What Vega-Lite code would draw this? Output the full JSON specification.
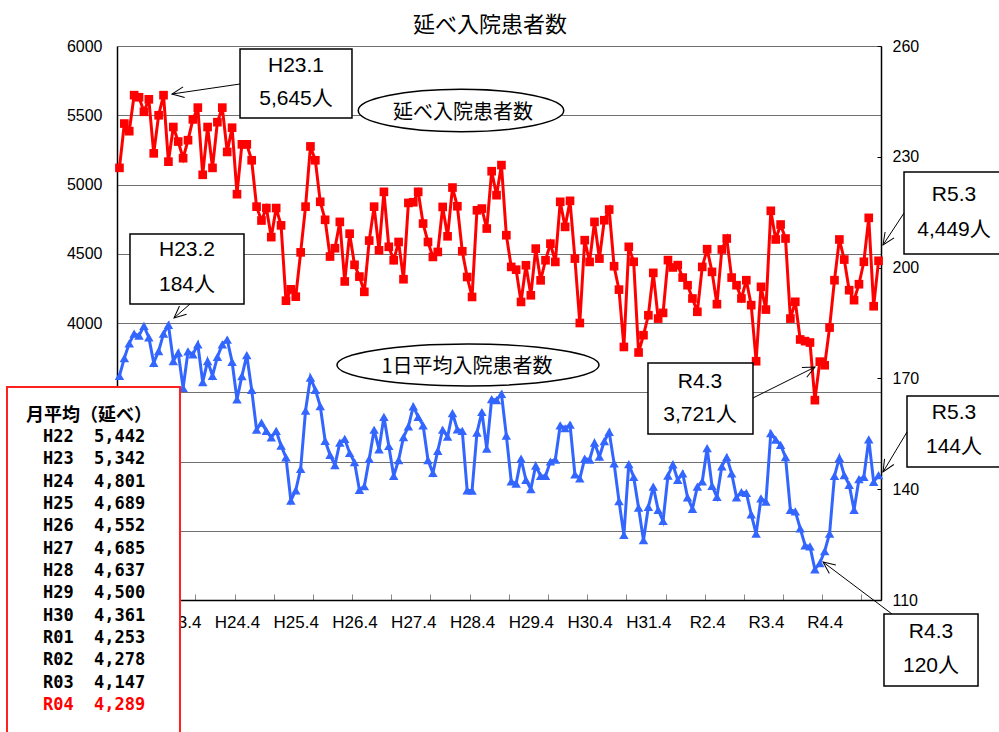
{
  "$schema": "https://vega.github.io/schema/vega-lite/v6.json",
  "width": 764,
  "height": 554,
  "autosize": {"type": "none"},
  "padding": {"left": 117, "top": 46, "right": 118, "bottom": 132},
  "background": "white",
  "title": {"text": "延べ入院患者数", "font": "Noto Sans CJK JP", "fontSize": 22, "fontWeight": "normal", "color": "black", "anchor": "middle", "dx": -9, "offset": 1},
  "config": {"view": {"stroke": null}},
  "datasets": {
    "monthly": [
      {"idx":0,"month":"H22.4","total":5120,"daily":170.7},
      {"idx":1,"month":"H22.5","total":5440,"daily":175.5},
      {"idx":2,"month":"H22.6","total":5385,"daily":179.5},
      {"idx":3,"month":"H22.7","total":5645,"daily":182.1},
      {"idx":4,"month":"H22.8","total":5630,"daily":181.6},
      {"idx":5,"month":"H22.9","total":5525,"daily":184.2},
      {"idx":6,"month":"H22.10","total":5615,"daily":181.1},
      {"idx":7,"month":"H22.11","total":5225,"daily":174.2},
      {"idx":8,"month":"H22.12","total":5500,"daily":177.4},
      {"idx":9,"month":"H23.1","total":5645,"daily":182.1},
      {"idx":10,"month":"H23.2","total":5165,"daily":184.5},
      {"idx":11,"month":"H23.3","total":5415,"daily":174.7},
      {"idx":12,"month":"H23.4","total":5310,"daily":177.0},
      {"idx":13,"month":"H23.5","total":5190,"daily":167.4},
      {"idx":14,"month":"H23.6","total":5320,"daily":177.3},
      {"idx":15,"month":"H23.7","total":5470,"daily":176.5},
      {"idx":16,"month":"H23.8","total":5555,"daily":179.2},
      {"idx":17,"month":"H23.9","total":5070,"daily":169.0},
      {"idx":18,"month":"H23.10","total":5415,"daily":174.7},
      {"idx":19,"month":"H23.11","total":5120,"daily":170.7},
      {"idx":20,"month":"H23.12","total":5450,"daily":175.8},
      {"idx":21,"month":"H24.1","total":5555,"daily":179.2},
      {"idx":22,"month":"H24.2","total":5235,"daily":180.5},
      {"idx":23,"month":"H24.3","total":5410,"daily":174.5},
      {"idx":24,"month":"H24.4","total":4930,"daily":164.3},
      {"idx":25,"month":"H24.5","total":5290,"daily":170.6},
      {"idx":26,"month":"H24.6","total":5290,"daily":176.3},
      {"idx":27,"month":"H24.7","total":5175,"daily":166.9},
      {"idx":28,"month":"H24.8","total":4840,"daily":156.1},
      {"idx":29,"month":"H24.9","total":4740,"daily":158.0},
      {"idx":30,"month":"H24.10","total":4830,"daily":155.8},
      {"idx":31,"month":"H24.11","total":4620,"daily":154.0},
      {"idx":32,"month":"H24.12","total":4830,"daily":155.8},
      {"idx":33,"month":"H25.1","total":4705,"daily":151.8},
      {"idx":34,"month":"H25.2","total":4161,"daily":148.6},
      {"idx":35,"month":"H25.3","total":4243,"daily":136.9},
      {"idx":36,"month":"H25.4","total":4190,"daily":139.7},
      {"idx":37,"month":"H25.5","total":4510,"daily":145.5},
      {"idx":38,"month":"H25.6","total":4840,"daily":161.3},
      {"idx":39,"month":"H25.7","total":5275,"daily":170.2},
      {"idx":40,"month":"H25.8","total":5175,"daily":166.9},
      {"idx":41,"month":"H25.9","total":4875,"daily":162.5},
      {"idx":42,"month":"H25.10","total":4745,"daily":153.1},
      {"idx":43,"month":"H25.11","total":4480,"daily":149.3},
      {"idx":44,"month":"H25.12","total":4540,"daily":146.5},
      {"idx":45,"month":"H26.1","total":4730,"daily":152.6},
      {"idx":46,"month":"H26.2","total":4300,"daily":153.6},
      {"idx":47,"month":"H26.3","total":4645,"daily":149.8},
      {"idx":48,"month":"H26.4","total":4420,"daily":147.3},
      {"idx":49,"month":"H26.5","total":4335,"daily":139.8},
      {"idx":50,"month":"H26.6","total":4225,"daily":140.8},
      {"idx":51,"month":"H26.7","total":4595,"daily":148.2},
      {"idx":52,"month":"H26.8","total":4840,"daily":156.1},
      {"idx":53,"month":"H26.9","total":4525,"daily":150.8},
      {"idx":54,"month":"H26.10","total":4947,"daily":159.6},
      {"idx":55,"month":"H26.11","total":4550,"daily":151.7},
      {"idx":56,"month":"H26.12","total":4453,"daily":143.6},
      {"idx":57,"month":"H27.1","total":4585,"daily":147.9},
      {"idx":58,"month":"H27.2","total":4316,"daily":154.1},
      {"idx":59,"month":"H27.3","total":4867,"daily":157.0},
      {"idx":60,"month":"H27.4","total":4872,"daily":162.4},
      {"idx":61,"month":"H27.5","total":4947,"daily":159.6},
      {"idx":62,"month":"H27.6","total":4718,"daily":157.3},
      {"idx":63,"month":"H27.7","total":4585,"daily":147.9},
      {"idx":64,"month":"H27.8","total":4477,"daily":144.4},
      {"idx":65,"month":"H27.9","total":4513,"daily":150.4},
      {"idx":66,"month":"H27.10","total":4838,"daily":156.1},
      {"idx":67,"month":"H27.11","total":4626,"daily":154.2},
      {"idx":68,"month":"H27.12","total":4978,"daily":160.6},
      {"idx":69,"month":"H28.1","total":4843,"daily":156.2},
      {"idx":70,"month":"H28.2","total":4518,"daily":155.8},
      {"idx":71,"month":"H28.3","total":4332,"daily":139.7},
      {"idx":72,"month":"H28.4","total":4188,"daily":139.6},
      {"idx":73,"month":"H28.5","total":4814,"daily":155.3},
      {"idx":74,"month":"H28.6","total":4826,"daily":160.9},
      {"idx":75,"month":"H28.7","total":4682,"daily":151.0},
      {"idx":76,"month":"H28.8","total":5096,"daily":164.4},
      {"idx":77,"month":"H28.9","total":4923,"daily":164.1},
      {"idx":78,"month":"H28.10","total":5140,"daily":165.8},
      {"idx":79,"month":"H28.11","total":4634,"daily":154.5},
      {"idx":80,"month":"H28.12","total":4405,"daily":142.1},
      {"idx":81,"month":"H29.1","total":4385,"daily":141.5},
      {"idx":82,"month":"H29.2","total":4152,"daily":148.3},
      {"idx":83,"month":"H29.3","total":4417,"daily":142.5},
      {"idx":84,"month":"H29.4","total":4200,"daily":140.0},
      {"idx":85,"month":"H29.5","total":4537,"daily":146.4},
      {"idx":86,"month":"H29.6","total":4308,"daily":143.6},
      {"idx":87,"month":"H29.7","total":4453,"daily":143.6},
      {"idx":88,"month":"H29.8","total":4573,"daily":147.5},
      {"idx":89,"month":"H29.9","total":4441,"daily":148.0},
      {"idx":90,"month":"H29.10","total":4875,"daily":157.3},
      {"idx":91,"month":"H29.11","total":4694,"daily":156.5},
      {"idx":92,"month":"H29.12","total":4882,"daily":157.5},
      {"idx":93,"month":"H30.1","total":4465,"daily":144.0},
      {"idx":94,"month":"H30.2","total":4000,"daily":142.9},
      {"idx":95,"month":"H30.3","total":4598,"daily":148.3},
      {"idx":96,"month":"H30.4","total":4441,"daily":148.0},
      {"idx":97,"month":"H30.5","total":4730,"daily":152.6},
      {"idx":98,"month":"H30.6","total":4465,"daily":148.8},
      {"idx":99,"month":"H30.7","total":4742,"daily":153.0},
      {"idx":100,"month":"H30.8","total":4819,"daily":155.5},
      {"idx":101,"month":"H30.9","total":4410,"daily":147.0},
      {"idx":102,"month":"H30.10","total":4241,"daily":136.8},
      {"idx":103,"month":"H30.11","total":3827,"daily":127.6},
      {"idx":104,"month":"H30.12","total":4550,"daily":146.8},
      {"idx":105,"month":"H31.1","total":4442,"daily":143.3},
      {"idx":106,"month":"H31.2","total":3787,"daily":135.0},
      {"idx":107,"month":"H31.3","total":3912,"daily":126.2},
      {"idx":108,"month":"H31.4","total":4056,"daily":135.2},
      {"idx":109,"month":"R1.5","total":4362,"daily":140.7},
      {"idx":110,"month":"R1.6","total":4032,"daily":134.4},
      {"idx":111,"month":"R1.7","total":4073,"daily":131.4},
      {"idx":112,"month":"R1.8","total":4454,"daily":143.7},
      {"idx":113,"month":"R1.9","total":4401,"daily":146.7},
      {"idx":114,"month":"R1.10","total":4418,"daily":142.5},
      {"idx":115,"month":"R1.11","total":4328,"daily":144.3},
      {"idx":116,"month":"R1.12","total":4273,"daily":137.8},
      {"idx":117,"month":"R2.1","total":4177,"daily":134.7},
      {"idx":118,"month":"R2.2","total":4081,"daily":140.7},
      {"idx":119,"month":"R2.3","total":4405,"daily":142.1},
      {"idx":120,"month":"R2.4","total":4533,"daily":151.1},
      {"idx":121,"month":"R2.5","total":4369,"daily":140.9},
      {"idx":122,"month":"R2.6","total":4136,"daily":137.9},
      {"idx":123,"month":"R2.7","total":4531,"daily":146.2},
      {"idx":124,"month":"R2.8","total":4610,"daily":148.7},
      {"idx":125,"month":"R2.9","total":4328,"daily":144.3},
      {"idx":126,"month":"R2.10","total":4273,"daily":137.8},
      {"idx":127,"month":"R2.11","total":4177,"daily":139.2},
      {"idx":128,"month":"R2.12","total":4309,"daily":139.0},
      {"idx":129,"month":"R3.1","total":4129,"daily":133.2},
      {"idx":130,"month":"R3.2","total":3724,"daily":128.0},
      {"idx":131,"month":"R3.3","total":4261,"daily":137.5},
      {"idx":132,"month":"R3.4","total":4097,"daily":136.6},
      {"idx":133,"month":"R3.5","total":4810,"daily":155.2},
      {"idx":134,"month":"R3.6","total":4603,"daily":153.4},
      {"idx":135,"month":"R3.7","total":4711,"daily":152.0},
      {"idx":136,"month":"R3.8","total":4610,"daily":148.7},
      {"idx":137,"month":"R3.9","total":4032,"daily":134.4},
      {"idx":138,"month":"R3.10","total":4153,"daily":134.0},
      {"idx":139,"month":"R3.11","total":3881,"daily":129.4},
      {"idx":140,"month":"R3.12","total":3869,"daily":124.8},
      {"idx":141,"month":"R4.1","total":3859,"daily":124.5},
      {"idx":142,"month":"R4.2","total":3443,"daily":118.3},
      {"idx":143,"month":"R4.3","total":3721,"daily":120.0},
      {"idx":144,"month":"R4.4","total":3695,"daily":123.2},
      {"idx":145,"month":"R4.5","total":3967,"daily":128.0},
      {"idx":146,"month":"R4.6","total":4309,"daily":143.6},
      {"idx":147,"month":"R4.7","total":4603,"daily":148.5},
      {"idx":148,"month":"R4.8","total":4458,"daily":143.8},
      {"idx":149,"month":"R4.9","total":4237,"daily":141.2},
      {"idx":150,"month":"R4.10","total":4165,"daily":134.4},
      {"idx":151,"month":"R4.11","total":4280,"daily":142.7},
      {"idx":152,"month":"R4.12","total":4442,"daily":143.3},
      {"idx":153,"month":"R5.1","total":4759,"daily":153.5},
      {"idx":154,"month":"R5.2","total":4121,"daily":142.0},
      {"idx":155,"month":"R5.3","total":4449,"daily":143.8}
    ],
    "annual": [
      {"fy":"H22","avg":5442,"order":0},
      {"fy":"H23","avg":5342,"order":1},
      {"fy":"H24","avg":4801,"order":2},
      {"fy":"H25","avg":4689,"order":3},
      {"fy":"H26","avg":4552,"order":4},
      {"fy":"H27","avg":4685,"order":5},
      {"fy":"H28","avg":4637,"order":6},
      {"fy":"H29","avg":4500,"order":7},
      {"fy":"H30","avg":4361,"order":8},
      {"fy":"R01","avg":4253,"order":9},
      {"fy":"R02","avg":4278,"order":10},
      {"fy":"R03","avg":4147,"order":11},
      {"fy":"R04","avg":4289,"order":12}
    ]
  },
  "layer": [
    {
      "layer": [
        {
          "data": {"name": "monthly"},
          "mark": {"type": "line", "color": "#ff0000", "strokeWidth": 3, "point": {"shape": "square", "size": 75, "color": "#ff0000", "filled": true, "opacity": 1}},
          "encoding": {
            "x": {"field": "idx", "type": "quantitative", "scale": {"domain": [-0.5, 155.5], "nice": false, "zero": false},
              "axis": {"orient": "bottom", "title": null,
                "values": [-0.5,0.5,1.5,2.5,3.5,4.5,5.5,6.5,7.5,8.5,9.5,10.5,11.5,12.5,13.5,14.5,15.5,16.5,17.5,18.5,19.5,20.5,21.5,22.5,23.5,24.5,25.5,26.5,27.5,28.5,29.5,30.5,31.5,32.5,33.5,34.5,35.5,36.5,37.5,38.5,39.5,40.5,41.5,42.5,43.5,44.5,45.5,46.5,47.5,48.5,49.5,50.5,51.5,52.5,53.5,54.5,55.5,56.5,57.5,58.5,59.5,60.5,61.5,62.5,63.5,64.5,65.5,66.5,67.5,68.5,69.5,70.5,71.5,72.5,73.5,74.5,75.5,76.5,77.5,78.5,79.5,80.5,81.5,82.5,83.5,84.5,85.5,86.5,87.5,88.5,89.5,90.5,91.5,92.5,93.5,94.5,95.5,96.5,97.5,98.5,99.5,100.5,101.5,102.5,103.5,104.5,105.5,106.5,107.5,108.5,109.5,110.5,111.5,112.5,113.5,114.5,115.5,116.5,117.5,118.5,119.5,120.5,121.5,122.5,123.5,124.5,125.5,126.5,127.5,128.5,129.5,130.5,131.5,132.5,133.5,134.5,135.5,136.5,137.5,138.5,139.5,140.5,141.5,142.5,143.5,144.5,145.5,146.5,147.5,148.5,149.5,150.5,151.5,152.5,153.5,154.5,155.5],
                "labels": false,
                "tickSize": -6, "tickColor": "#888888", "tickWidth": 1,
                "domainColor": "black", "domainWidth": 1.5, "grid": false}},
            "y": {"field": "total", "type": "quantitative", "scale": {"domain": [2000, 6000], "nice": false, "zero": false},
              "axis": {"orient": "left", "title": null, "values": [2000,2500,3000,3500,4000,4500,5000,5500,6000], "format": "d",
                "labelExpr": "datum.value >= 4000 ? datum.label : ''",
                "grid": true, "gridColor": "#707070", "gridWidth": 1, "ticks": false,
                "labelFont": "Liberation Sans", "labelFontSize": 16, "labelColor": "black", "labelPadding": 15,
                "domainColor": "black", "domainWidth": 1.5}}
          }
        },
        {"data": {"values": [{}]}, "mark": {"type": "rect", "fill": "white", "stroke": "black", "strokeWidth": 1.5},
          "encoding": {"x": {"datum": 24.62, "type": "quantitative"}, "x2": {"datum": 47.48}, "y": {"datum": 5978.3, "type": "quantitative"}, "y2": {"datum": 5480.1}}},
        {"data": {"values": [{}]}, "mark": {"type": "text", "text": ["H23.1", "5,645人"], "align": "center", "baseline": "middle", "lineHeight": 33, "font": "Liberation Sans, Noto Sans CJK JP", "fontSize": 21, "color": "black"},
          "encoding": {"x": {"datum": 36.05, "type": "quantitative"}, "y": {"datum": 5855.6, "type": "quantitative"}}},
        {"data": {"values": [{}]}, "mark": {"type": "rule", "color": "black", "strokeWidth": 1},
          "encoding": {"x": {"datum": 24.62, "type": "quantitative"}, "y": {"datum": 5725.6, "type": "quantitative"}, "x2": {"datum": 10.73}, "y2": {"datum": 5653.4}}},
        {"data": {"values": [{}]}, "mark": {"type": "point", "shape": "M-1,-0.45L0,0L-1,0.45", "size": 576, "filled": false, "color": "black", "strokeWidth": 1, "opacity": 1, "angle": 171.6},
          "encoding": {"x": {"datum": 10.73, "type": "quantitative"}, "y": {"datum": 5653.4, "type": "quantitative"}}},

        {"data": {"values": [{}]}, "mark": {"type": "rect", "fill": "white", "stroke": "black", "strokeWidth": 1.5},
          "encoding": {"x": {"datum": 2.15, "type": "quantitative"}, "x2": {"datum": 25.43}, "y": {"datum": 4642.6, "type": "quantitative"}, "y2": {"datum": 4137.2}}},
        {"data": {"values": [{}]}, "mark": {"type": "text", "text": ["H23.2", "184人"], "align": "center", "baseline": "middle", "lineHeight": 35, "font": "Liberation Sans, Noto Sans CJK JP", "fontSize": 21, "color": "black"},
          "encoding": {"x": {"datum": 13.79, "type": "quantitative"}, "y": {"datum": 4527.1, "type": "quantitative"}}},
        {"data": {"values": [{}]}, "mark": {"type": "rule", "color": "black", "strokeWidth": 1},
          "encoding": {"x": {"datum": 14.41, "type": "quantitative"}, "y": {"datum": 4137.2, "type": "quantitative"}, "x2": {"datum": 11.14}, "y2": {"datum": 4036.1}}},
        {"data": {"values": [{}]}, "mark": {"type": "point", "shape": "M-1,-0.45L0,0L-1,0.45", "size": 576, "filled": false, "color": "black", "strokeWidth": 1, "opacity": 1, "angle": 138.8},
          "encoding": {"x": {"datum": 11.14, "type": "quantitative"}, "y": {"datum": 4036.1, "type": "quantitative"}}},

        {"data": {"values": [{}]}, "mark": {"type": "point", "shape": "M-1,0C-1,-0.1138,-0.5523,-0.206,0,-0.206C0.5523,-0.206,1,-0.1138,1,0C1,0.1138,0.5523,0.206,0,0.206C-0.5523,0.206,-1,0.1138,-1,0Z", "size": 42230, "filled": true, "fill": "white", "stroke": "black", "strokeWidth": 1.5, "opacity": 1},
          "encoding": {"x": {"datum": 69.74, "type": "quantitative"}, "y": {"datum": 5534.3, "type": "quantitative"}}},
        {"data": {"values": [{}]}, "mark": {"type": "text", "text": "延べ入院患者数", "align": "center", "baseline": "middle", "font": "Noto Sans CJK JP", "fontSize": 20, "color": "black"},
          "encoding": {"x": {"datum": 70.15, "type": "quantitative"}, "y": {"datum": 5516.2, "type": "quantitative"}}},
        {"data": {"values": [{}]}, "mark": {"type": "point", "shape": "M-1,0C-1,-0.0885,-0.5523,-0.1603,0,-0.1603C0.5523,-0.1603,1,-0.0885,1,0C1,0.0885,0.5523,0.1603,0,0.1603C-0.5523,0.1603,-1,0.0885,-1,0Z", "size": 68644, "filled": true, "fill": "white", "stroke": "black", "strokeWidth": 1.5, "opacity": 1},
          "encoding": {"x": {"datum": 71.17, "type": "quantitative"}, "y": {"datum": 3696.8, "type": "quantitative"}}},
        {"data": {"values": [{}]}, "mark": {"type": "text", "text": "1日平均入院患者数", "align": "center", "baseline": "middle", "font": "Noto Sans CJK JP", "fontSize": 20, "color": "black"},
          "encoding": {"x": {"datum": 70.97, "type": "quantitative"}, "y": {"datum": 3684.5, "type": "quantitative"}}},

        {"data": {"values": [{}]}, "mark": {"type": "rect", "fill": "white", "stroke": "black", "strokeWidth": 1.5},
          "encoding": {"x": {"datum": 160.2, "type": "quantitative"}, "x2": {"datum": 180.8}, "y": {"datum": 5090.3, "type": "quantitative"}, "y2": {"datum": 4498.2}}},
        {"data": {"values": [{}]}, "mark": {"type": "text", "text": ["R5.3", "4,449人"], "align": "center", "baseline": "middle", "lineHeight": 35, "font": "Liberation Sans, Noto Sans CJK JP", "fontSize": 21, "color": "black"},
          "encoding": {"x": {"datum": 170.41, "type": "quantitative"}, "y": {"datum": 4924.2, "type": "quantitative"}}},
        {"data": {"values": [{}]}, "mark": {"type": "rule", "color": "black", "strokeWidth": 1},
          "encoding": {"x": {"datum": 160.2, "type": "quantitative"}, "y": {"datum": 4794.2, "type": "quantitative"}, "x2": {"datum": 155.91}, "y2": {"datum": 4563.2}}},
        {"data": {"values": [{}]}, "mark": {"type": "point", "shape": "M-1,-0.45L0,0L-1,0.45", "size": 576, "filled": false, "color": "black", "strokeWidth": 1, "opacity": 1, "angle": 123.3},
          "encoding": {"x": {"datum": 155.91, "type": "quantitative"}, "y": {"datum": 4563.2, "type": "quantitative"}}},

        {"data": {"values": [{}]}, "mark": {"type": "rect", "fill": "white", "stroke": "black", "strokeWidth": 1.5},
          "encoding": {"x": {"datum": 107.92, "type": "quantitative"}, "x2": {"datum": 129.36}, "y": {"datum": 3711.2, "type": "quantitative"}, "y2": {"datum": 3198.6}}},
        {"data": {"values": [{}]}, "mark": {"type": "text", "text": ["R4.3", "3,721人"], "align": "center", "baseline": "middle", "lineHeight": 33, "font": "Liberation Sans, Noto Sans CJK JP", "fontSize": 21, "color": "black"},
          "encoding": {"x": {"datum": 118.54, "type": "quantitative"}, "y": {"datum": 3574.0, "type": "quantitative"}}},
        {"data": {"values": [{}]}, "mark": {"type": "rule", "color": "black", "strokeWidth": 1},
          "encoding": {"x": {"datum": 129.36, "type": "quantitative"}, "y": {"datum": 3458.5, "type": "quantitative"}, "x2": {"datum": 142.03}, "y2": {"datum": 3682.3}}},
        {"data": {"values": [{}]}, "mark": {"type": "point", "shape": "M-1,-0.45L0,0L-1,0.45", "size": 576, "filled": false, "color": "black", "strokeWidth": 1, "opacity": 1, "angle": -26.6},
          "encoding": {"x": {"datum": 142.03, "type": "quantitative"}, "y": {"datum": 3682.3, "type": "quantitative"}}},

        {"data": {"values": [{}]}, "mark": {"type": "rect", "fill": "white", "stroke": "black", "strokeWidth": 1.5},
          "encoding": {"x": {"datum": 160.81, "type": "quantitative"}, "x2": {"datum": 180.8}, "y": {"datum": 3472.9, "type": "quantitative"}, "y2": {"datum": 2960.3}}},
        {"data": {"values": [{}]}, "mark": {"type": "text", "text": ["R5.3", "144人"], "align": "center", "baseline": "middle", "lineHeight": 34, "font": "Liberation Sans, Noto Sans CJK JP", "fontSize": 21, "color": "black"},
          "encoding": {"x": {"datum": 170.41, "type": "quantitative"}, "y": {"datum": 3350.2, "type": "quantitative"}}},
        {"data": {"values": [{}]}, "mark": {"type": "rule", "color": "black", "strokeWidth": 1},
          "encoding": {"x": {"datum": 160.81, "type": "quantitative"}, "y": {"datum": 3213.0, "type": "quantitative"}, "x2": {"datum": 155.91}, "y2": {"datum": 2924.2}}},
        {"data": {"values": [{}]}, "mark": {"type": "point", "shape": "M-1,-0.45L0,0L-1,0.45", "size": 576, "filled": false, "color": "black", "strokeWidth": 1, "opacity": 1, "angle": 121.0},
          "encoding": {"x": {"datum": 155.91, "type": "quantitative"}, "y": {"datum": 2924.2, "type": "quantitative"}}},

        {"data": {"values": [{}]}, "mark": {"type": "rect", "fill": "white", "stroke": "black", "strokeWidth": 1.5},
          "encoding": {"x": {"datum": 156.11, "type": "quantitative"}, "x2": {"datum": 175.31}, "y": {"datum": 1898.9, "type": "quantitative"}, "y2": {"datum": 1379.1}}},
        {"data": {"values": [{}]}, "mark": {"type": "text", "text": ["R4.3", "120人"], "align": "center", "baseline": "middle", "lineHeight": 34, "font": "Liberation Sans, Noto Sans CJK JP", "fontSize": 21, "color": "black"},
          "encoding": {"x": {"datum": 165.71, "type": "quantitative"}, "y": {"datum": 1768.9, "type": "quantitative"}}},
        {"data": {"values": [{}]}, "mark": {"type": "rule", "color": "black", "strokeWidth": 1},
          "encoding": {"x": {"datum": 157.75, "type": "quantitative"}, "y": {"datum": 1898.9, "type": "quantitative"}, "x2": {"datum": 143.66}, "y2": {"datum": 2274.4}}},
        {"data": {"values": [{}]}, "mark": {"type": "point", "shape": "M-1,-0.45L0,0L-1,0.45", "size": 576, "filled": false, "color": "black", "strokeWidth": 1, "opacity": 1, "angle": -143.0},
          "encoding": {"x": {"datum": 143.66, "type": "quantitative"}, "y": {"datum": 2274.4, "type": "quantitative"}}}
      ]
    },
    {
      "layer": [
        {
          "data": {"name": "monthly"},
          "mark": {"type": "line", "color": "#3366ff", "strokeWidth": 3, "point": {"shape": "triangle-up", "size": 90, "color": "#3366ff", "filled": true, "opacity": 1}},
          "encoding": {
            "x": {"field": "idx", "type": "quantitative", "scale": {"domain": [-0.5, 155.5], "nice": false, "zero": false},
              "axis": {"orient": "bottom", "title": null, "values": [12,24,36,48,60,72,84,96,108,120,132,144],
                "labelExpr": "['H22.4','H23.4','H24.4','H25.4','H26.4','H27.4','H28.4','H29.4','H30.4','H31.4','R2.4','R3.4','R4.4'][datum.value / 12]",
                "ticks": false, "domain": false, "grid": false, "labelOverlap": false, "labelBound": false, "labelFlush": false,
                "labelFont": "Liberation Sans", "labelFontSize": 17, "labelColor": "black", "labelPadding": 14}},
            "y": {"field": "daily", "type": "quantitative", "scale": {"domain": [110, 260], "nice": false, "zero": false},
              "axis": {"orient": "right", "title": null, "values": [110,140,170,200,230,260], "format": "d", "grid": false,
                "ticks": true, "tickSize": -4, "tickColor": "black", "tickWidth": 1,
                "labelFont": "Liberation Sans", "labelFontSize": 16, "labelColor": "black", "labelPadding": 15,
                "domainColor": "black", "domainWidth": 1.5}}
          }
        }
      ]
    },
    {
      "layer": [
        {"data": {"values": [{}]}, "mark": {"type": "rect", "fill": "white", "stroke": "#ff2020", "strokeWidth": 2},
          "encoding": {"x": {"datum": -22.96, "type": "quantitative", "axis": null}, "x2": {"datum": 12.36}, "y": {"datum": -2.239, "type": "quantitative", "axis": null}, "y2": {"datum": 13.79}}},
        {"data": {"values": [{}]}, "mark": {"type": "text", "text": "月平均（延べ）", "align": "center", "baseline": "middle", "font": "Noto Sans CJK JP", "fontWeight": "bold", "fontSize": 18, "color": "black"},
          "encoding": {"x": {"datum": -6.22, "type": "quantitative", "axis": null}, "y": {"datum": -0.954, "type": "quantitative", "axis": null}}},
        {"data": {"name": "annual"}, "mark": {"type": "text", "align": "left", "baseline": "middle", "font": "DejaVu Sans Mono", "fontWeight": "bold", "fontSize": 17},
          "encoding": {
            "x": {"datum": -15.61, "type": "quantitative", "axis": null},
            "y": {"field": "order", "type": "quantitative", "scale": {"domain": [-17.51, 7.30], "reverse": true, "nice": false, "zero": false}, "axis": null},
            "text": {"field": "fy"},
            "color": {"condition": {"test": "datum.fy === 'R04'", "value": "#ff0000"}, "value": "black"}}},
        {"data": {"name": "annual"}, "mark": {"type": "text", "align": "left", "baseline": "middle", "font": "DejaVu Sans Mono", "fontWeight": "bold", "fontSize": 17},
          "encoding": {
            "x": {"datum": -5.2, "type": "quantitative", "axis": null},
            "y": {"field": "order", "type": "quantitative", "scale": {"domain": [-17.51, 7.30], "reverse": true, "nice": false, "zero": false}, "axis": null},
            "text": {"field": "avg", "type": "quantitative", "format": ","},
            "color": {"condition": {"test": "datum.fy === 'R04'", "value": "#ff0000"}, "value": "black"}}}
      ]
    }
  ],
  "resolve": {"scale": {"y": "independent"}, "axis": {"x": "independent"}}
}
